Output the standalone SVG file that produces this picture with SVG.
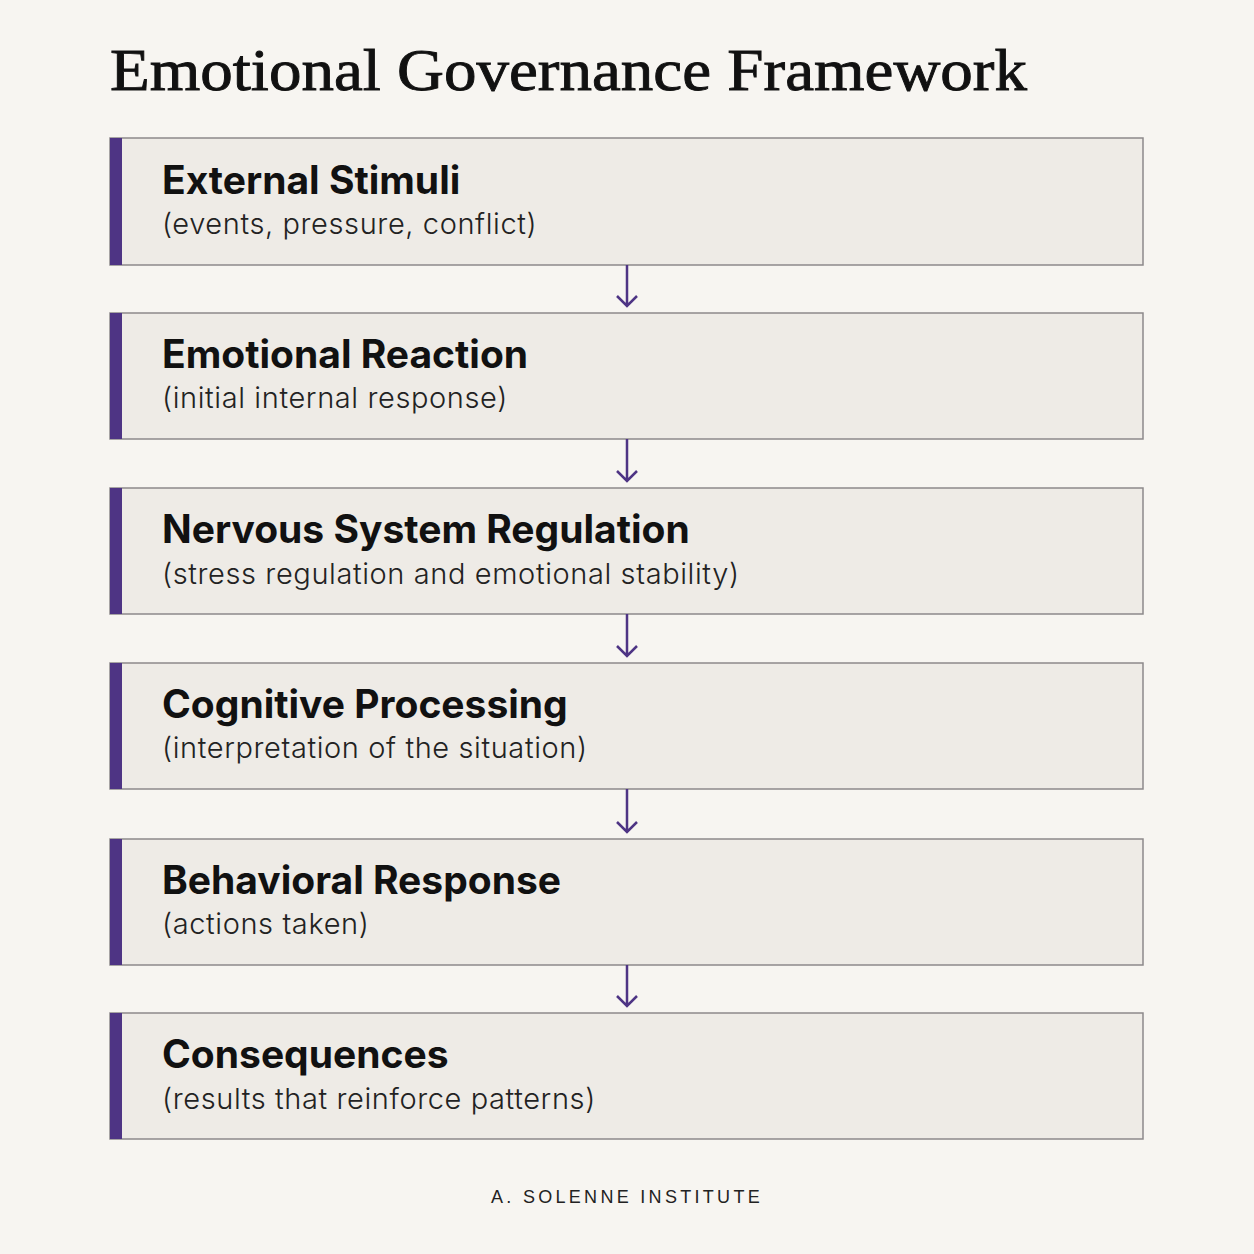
<svg xmlns="http://www.w3.org/2000/svg" width="1254" height="1254" viewBox="0 0 1254 1254">
<defs>
<style>
.box{fill:#eeebe6;stroke:#8d898b;stroke-width:1.5}
.bar{fill:#4e3484}
.h{font-family:"Inter","Open Sans","Liberation Sans",sans-serif;font-weight:700;font-size:39px;fill:#111}
.s{font-family:"Inter","Open Sans","Liberation Sans",sans-serif;font-weight:300;font-size:29px;letter-spacing:0.6px;fill:#222}
.c{stroke:#4e3484;stroke-width:2.5;fill:none}
</style>
</defs>
<rect width="1254" height="1254" fill="#f7f5f1"/>
<text x="110" y="90" font-family="Liberation Serif, serif" font-size="60" fill="#111" stroke="#111" stroke-width="0.9" textLength="917" lengthAdjust="spacingAndGlyphs">Emotional Governance Framework</text>
<g id="n1"><rect class="box" x="110" y="138" width="1033" height="127"/><rect class="bar" x="110" y="138" width="12" height="127"/><text class="h" x="162" y="194">External Stimuli</text><text class="s" x="162" y="234">(events, pressure, conflict)</text></g>
<g id="n2"><rect class="box" x="110" y="313" width="1033" height="126"/><rect class="bar" x="110" y="313" width="12" height="126"/><text class="h" x="162" y="368">Emotional Reaction</text><text class="s" x="162" y="408">(initial internal response)</text></g>
<g id="n3"><rect class="box" x="110" y="488" width="1033" height="126"/><rect class="bar" x="110" y="488" width="12" height="126"/><text class="h" x="162" y="543">Nervous System Regulation</text><text class="s" x="162" y="584">(stress regulation and emotional stability)</text></g>
<g id="n4"><rect class="box" x="110" y="663" width="1033" height="126"/><rect class="bar" x="110" y="663" width="12" height="126"/><text class="h" x="162" y="718">Cognitive Processing</text><text class="s" x="162" y="758">(interpretation of the situation)</text></g>
<g id="n5"><rect class="box" x="110" y="839" width="1033" height="126"/><rect class="bar" x="110" y="839" width="12" height="126"/><text class="h" x="162" y="894">Behavioral Response</text><text class="s" x="162" y="934">(actions taken)</text></g>
<g id="n6"><rect class="box" x="110" y="1013" width="1033" height="126"/><rect class="bar" x="110" y="1013" width="12" height="126"/><text class="h" x="162" y="1068">Consequences</text><text class="s" x="162" y="1109">(results that reinforce patterns)</text></g>
<g id="connectors">
<path class="c" d="M627 265V306M617 296L627 306L637 296"/>
<path class="c" d="M627 439V481M617 471L627 481L637 471"/>
<path class="c" d="M627 614V656M617 646L627 656L637 646"/>
<path class="c" d="M627 789V832M617 822L627 832L637 822"/>
<path class="c" d="M627 965V1006M617 996L627 1006L637 996"/>
</g>
<text x="627" y="1203" text-anchor="middle" font-family="Liberation Sans, sans-serif" font-size="18" letter-spacing="3.3" fill="#222">A. SOLENNE INSTITUTE</text>
</svg>
